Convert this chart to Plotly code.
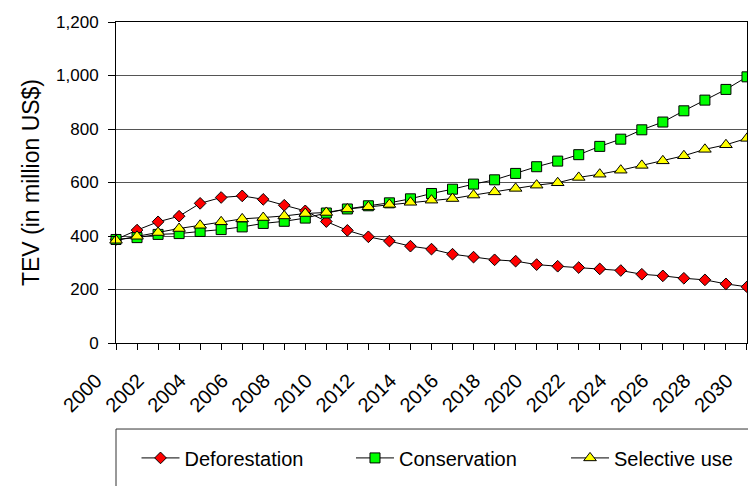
import plotly.graph_objects as go

# Total economic value scenarios, 2000-2030
years = list(range(2000, 2031))

deforestation = [387, 422, 453, 474, 522, 544, 550, 537, 515, 494,
                 454, 421, 397, 381, 362, 351, 332, 321, 311, 306,
                 293, 287, 282, 277, 271, 257, 251, 242, 236, 221, 210]

conservation = [387, 394, 406, 409, 417, 424, 434, 447, 455, 467,
                486, 501, 513, 524, 539, 559, 575, 594, 610, 634,
                659, 680, 704, 735, 762, 797, 826, 868, 908, 948, 995]

selective_use = [384, 399, 413, 428, 440, 453, 464, 469, 475, 484,
                 488, 501, 509, 518, 526, 534, 540, 553, 565, 578,
                 590, 599, 619, 631, 646, 664, 681, 700, 724, 741, 765]

y_ticks = [0, 200, 400, 600, 800, 1000, 1200]
y_tick_text = ["0", "200", "400", "600", "800", "1,000", "1,200"]
x_ticks = list(range(2000, 2031, 2))

FONT = "Liberation Sans, Arial, sans-serif"

# name, values, marker symbol, fill colour, marker size, legend id, legend x
series = [
    ("Deforestation", deforestation, "diamond", "#FF0000", 9, "legend", 0.0325),
    ("Conservation", conservation, "square", "#00FF00", 10, "legend2", 0.3724),
    ("Selective use", selective_use, "triangle-up", "#FFFF00", 11, "legend3", 0.7132),
]

fig = go.Figure()
legends = {}
for name, vals, symbol, color, size, leg, lx in series:
    fig.add_trace(go.Scatter(
        x=years, y=vals, name=name, mode="lines+markers",
        line=dict(color="black", width=1),
        marker=dict(symbol=symbol, size=size, color=color,
                    line=dict(color="black", width=1)),
        cliponaxis=False, legend=leg,
    ))
    legends[leg] = dict(
        orientation="h", x=lx, xanchor="left", y=-0.358, yanchor="middle",
        font=dict(size=20), bgcolor="rgba(0,0,0,0)", itemwidth=38,
    )

fig.update_layout(
    width=748, height=486,
    margin=dict(l=116, r=1, t=22, b=143),
    paper_bgcolor="white", plot_bgcolor="white",
    font=dict(family=FONT, size=17, color="black"),
    showlegend=True,
    **legends,
    shapes=[dict(type="rect", xref="paper", yref="paper",
                 x0=0, x1=1.1, y0=-0.268, y1=-0.6,
                 line=dict(color="#333333", width=1), fillcolor="rgba(0,0,0,0)")],
)

fig.update_xaxes(
    range=[2000, 2030.001], tickvals=x_ticks, ticktext=[str(v) for v in x_ticks],
    tickangle=-45, tickfont=dict(size=20),
    ticks="outside", ticklen=6, tickcolor="black",
    minor=dict(dtick=1, tick0=2000, ticks="outside", ticklen=6, tickcolor="black"),
    showline=True, linecolor="black", linewidth=1, mirror=True,
    showgrid=False, zeroline=False, ticklabelstandoff=11, ticklabelshift=-20,
    ticklabeloverflow="allow",
)
fig.update_yaxes(
    range=[0, 1200], tickvals=y_ticks, ticktext=y_tick_text,
    ticks="outside", ticklen=7, tickcolor="black",
    showline=True, linecolor="black", linewidth=1, mirror=True,
    showgrid=True, gridcolor="#555555", gridwidth=1, zeroline=False,
    title=dict(text="TEV (in million US$)", font=dict(size=23), standoff=10),
    ticklabelstandoff=6,
)

fig.write_html("out.html")
